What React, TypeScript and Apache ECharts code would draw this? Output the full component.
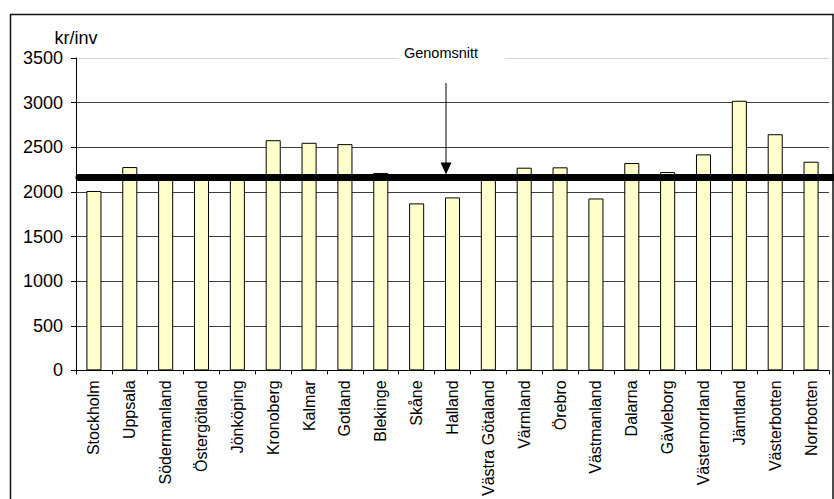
import React, { useEffect, useRef } from "react";
import * as echarts from "echarts";

// Län (counties) and cost per inhabitant, kr/inv
const counties = [
  "Stockholm", "Uppsala", "Södermanland", "Östergötland", "Jönköping",
  "Kronoberg", "Kalmar", "Gotland", "Blekinge", "Skåne", "Halland",
  "Västra Götaland", "Värmland", "Örebro", "Västmanland", "Dalarna",
  "Gävleborg", "Västernorrland", "Jämtland", "Västerbotten", "Norrbotten",
];
const costPerInhabitant = [
  2010, 2278, 2180, 2170, 2150,
  2579, 2550, 2535, 2212, 1871, 1938,
  2150, 2271, 2275, 1926, 2323,
  2223, 2420, 3021, 2646, 2338,
];
// National average drawn as the thick horizontal line
const averageValue = 2160;
const averageLabel = "Genomsnitt";
const yTicks = [0, 500, 1000, 1500, 2000, 2500, 3000, 3500];

const FONT = "'Liberation Sans', Arial, sans-serif";

export default function App() {
  const ref = useRef<HTMLDivElement>(null);

  useEffect(() => {
    if (!ref.current) return;
    const chart = echarts.init(ref.current, null, { renderer: "svg" });

    const gridColors = yTicks.map((_, i) => (i === yTicks.length - 1 ? "#d4d4d4" : "#3c3c3c"));

    chart.setOption({
      animation: false,
      backgroundColor: "#ffffff",
      textStyle: { fontFamily: FONT, color: "#000" },
      grid: { left: 76, right: 5, top: 58, bottom: 126.7, containLabel: false },
      xAxis: {
        type: "category",
        data: counties,
        boundaryGap: true,
        axisLine: { lineStyle: { color: "#000", width: 1 } },
        axisTick: { show: true, length: 4, lineStyle: { color: "#000" } },
        axisLabel: {
          rotate: 90,
          interval: 0,
          margin: 10,
          fontSize: 16,
          fontFamily: FONT,
          color: "#000",
        },
        splitLine: { show: false },
      },
      yAxis: {
        type: "value",
        min: yTicks[0],
        max: yTicks[yTicks.length - 1],
        interval: 500,
        name: "kr/inv",
        nameLocation: "end",
        nameGap: 11,
        nameTextStyle: { fontSize: 18, fontFamily: FONT, color: "#000", align: "center" },
        axisLine: { show: true, lineStyle: { color: "#000", width: 1 } },
        axisTick: { show: true, length: 5, lineStyle: { color: "#000" } },
        axisLabel: {
          fontSize: 18,
          fontFamily: FONT,
          color: "#000",
          margin: 13,
          formatter: (v: number) => String(v),
        },
        splitLine: { show: true, lineStyle: { color: gridColors, width: 1 } },
      },
      series: [
        {
          type: "bar",
          data: costPerInhabitant,
          barWidth: "42%",
          itemStyle: { color: "#FFFFCC", borderColor: "#000", borderWidth: 1 },
          z: 2,
        },
      ],
    });

    const lineY = chart.convertToPixel({ yAxisIndex: 0 }, averageValue) as number;
    const arrowX = 446;

    chart.setOption({
      graphic: [
        // outer frame
        {
          type: "rect",
          shape: { x: 10.5, y: 14.5, width: 822.5, height: 520 },
          style: { fill: "none", stroke: "#111", lineWidth: 1.5 },
          z: 10,
        },
        // average line
        {
          type: "line",
          shape: { x1: 79, y1: lineY, x2: 840, y2: lineY },
          style: { stroke: "#000", lineWidth: 7, lineCap: "round" },
          z: 20,
        },
        // annotation label (box centre; padding is uneven so text sits left of it)
        {
          type: "text",
          x: 452,
          y: 53,
          style: {
            text: averageLabel,
            fontSize: 14.5,
            fontFamily: FONT,
            fill: "#000",
            align: "center",
            verticalAlign: "middle",
            backgroundColor: "#fff",
            padding: [3, 27, 3, 5],
          },
          z: 20,
        },
        // arrow shaft
        {
          type: "line",
          shape: { x1: arrowX, y1: 83, x2: arrowX, y2: lineY - 14 },
          style: { stroke: "#000", lineWidth: 1 },
          z: 20,
        },
        // arrow head
        {
          type: "polygon",
          shape: {
            points: [
              [arrowX - 5.5, lineY - 15],
              [arrowX + 5.5, lineY - 15],
              [arrowX, lineY - 3],
            ],
          },
          style: { fill: "#000" },
          z: 20,
        },
      ],
    });

    return () => chart.dispose();
  }, []);

  return (
    <div
      ref={ref}
      style={{ position: "fixed", left: 0, top: 0, width: 834, height: 499 }}
    />
  );
}
